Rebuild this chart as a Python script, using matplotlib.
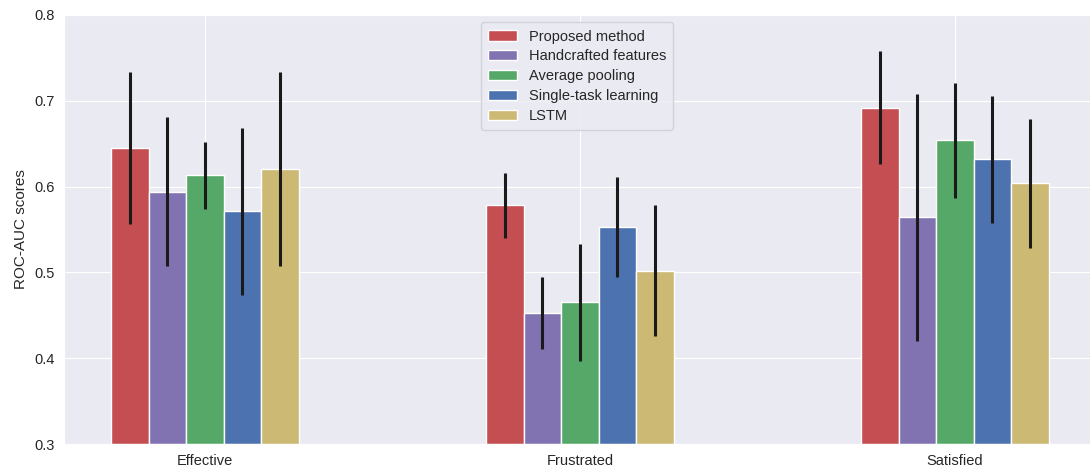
import matplotlib
matplotlib.use("Agg")
import matplotlib.pyplot as plt
import seaborn as sns
import numpy as np

categories = ["Effective", "Frustrated", "Satisfied"]
methods = ["Proposed method", "Handcrafted features", "Average pooling",
           "Single-task learning", "LSTM"]
proposed = [0.645, 0.578, 0.692]
handcrafted = [0.594, 0.453, 0.564]
avg_pooling = [0.613, 0.465, 0.654]
single_task = [0.571, 0.553, 0.632]
lstm = [0.620, 0.502, 0.604]
proposed_err = [0.089, 0.038, 0.066]
handcrafted_err = [0.087, 0.042, 0.144]
avg_pooling_err = [0.039, 0.068, 0.067]
single_task_err = [0.097, 0.058, 0.074]
lstm_err = [0.113, 0.076, 0.075]
colors = ["#C44E52", "#8172B2", "#55A868", "#4C72B0", "#CCB974"]

sns.set_style("darkgrid")
plt.rcParams['font.family'] = ['Liberation Sans', 'DejaVu Sans']

fig = plt.figure(figsize=(10.9, 4.72), dpi=100)
ax = fig.add_axes([0.0587, 0.0593, 0.9413, 0.909])

values = [proposed, handcrafted, avg_pooling, single_task, lstm]
errs = [proposed_err, handcrafted_err, avg_pooling_err, single_task_err, lstm_err]
x = np.arange(len(categories))
w = 0.1
for i, (v, e, c, m) in enumerate(zip(values, errs, colors, methods)):
    ax.bar(x + (i - 2) * w, np.array(v) - 0.3, w, bottom=0.3, color=c,
           edgecolor="white", linewidth=1, label=m, zorder=2)
    ax.errorbar(x + (i - 2) * w, v, yerr=e, fmt="none", ecolor="#1a1a1a",
                elinewidth=2.2, capsize=0, zorder=3)

ax.set_xlim(-0.376, 2.36)
ax.set_ylim(0.3, 0.8)
ax.set_xticks(x)
ax.set_xticklabels(categories)
ax.set_yticks([0.3, 0.4, 0.5, 0.6, 0.7, 0.8])
ax.set_yticklabels(["0.3", "0.4", "0.5", "0.6", "0.7", "0.8"])
ax.tick_params(labelsize=10.5, colors="#262626")
ax.set_ylabel("ROC-AUC scores", fontsize=11, color="#262626")
leg = ax.legend(loc="upper center", fontsize=10.5, frameon=True,
                handlelength=2.0, labelspacing=0.4, borderaxespad=0.5,
                borderpad=0.5)
leg.get_frame().set_facecolor("#EAEAF2")
leg.get_frame().set_edgecolor("#CCCCD6")

fig.savefig("out.png", dpi=100)
